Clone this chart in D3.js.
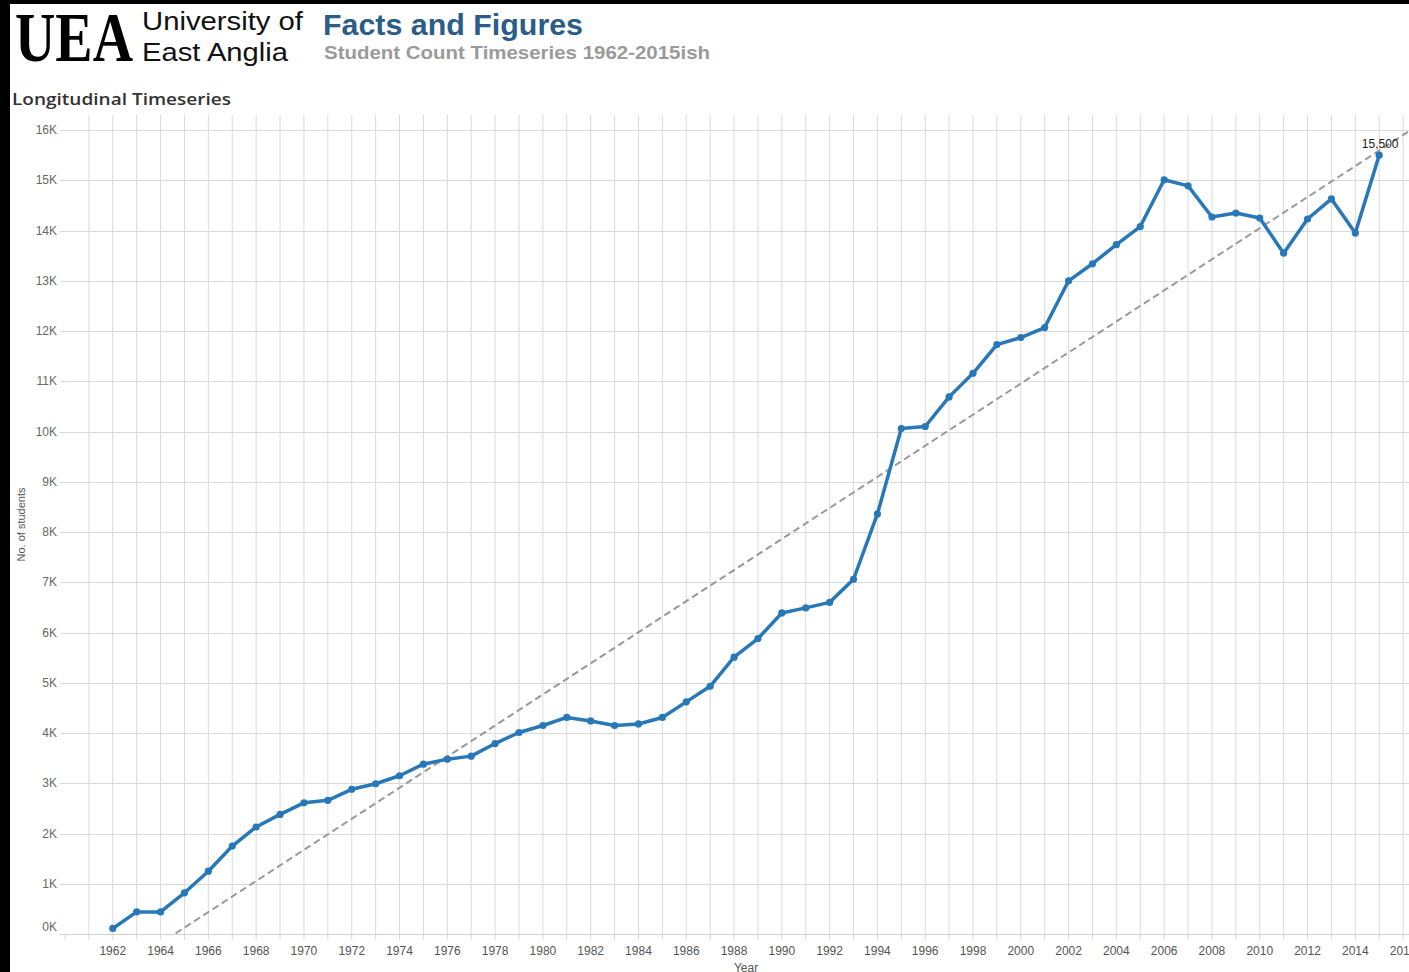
<!DOCTYPE html>
<html>
<head>
<meta charset="utf-8">
<script src="https://cdn.jsdelivr.net/npm/d3@7"></script>
<style>
  body { margin: 0; background: #fff; }
  svg { display: block; }
</style>
</head>
<body>
<div id="chart"></div>
<script>
// student counts, one per year 1962..2015
var years = d3.range(1962, 2016);
var students = [
    110, 440, 440, 820, 1250, 1750, 2130, 2380, 2610, 2660,
    2880, 2990, 3150, 3380, 3480, 3540, 3790, 4010, 4150, 4310,
    4240, 4150, 4180, 4310, 4620, 4930, 5510, 5880, 6390, 6490,
    6600, 7060, 8360, 10060, 10100, 10690, 11160, 11730, 11870, 12070,
    13000, 13340, 13720, 14080, 15010, 14890, 14270, 14350, 14250, 13550,
    14230, 14630, 13950, 15500
];
var yTicks = d3.range(0, 17000, 1000);
var xLabelYears = d3.range(1962, 2017, 2);

var data = years.map(function (y, i) {
    return {year: y, valor: students[i]};
});

var W = 1409, H = 972;
var pane = {left: 65, right: 1427, top: 115, bottom: 934};

var svg = d3.select("#chart").append("svg")
        .attr("width", W)
        .attr("height", H);

// black frame left / top
svg.append("rect").attr("x", 0).attr("y", 0).attr("width", W).attr("height", 4).attr("fill", "#000");
svg.append("rect").attr("x", 0).attr("y", 0).attr("width", 10).attr("height", H).attr("fill", "#000");

// header
svg.append("text")
        .attr("x", 15).attr("y", 61)
        .attr("font-family", "Liberation Serif, serif")
        .attr("font-size", 70)
        .attr("font-weight", "bold")
        .attr("fill", "#000")
        .attr("textLength", 118)
        .attr("lengthAdjust", "spacingAndGlyphs")
        .text("UEA");
svg.append("text")
        .attr("x", 142).attr("y", 30)
        .attr("font-family", "Liberation Sans, Arial, sans-serif")
        .attr("font-size", 26)
        .attr("textLength", 161).attr("lengthAdjust", "spacingAndGlyphs")
        .attr("fill", "#111")
        .text("University of");
svg.append("text")
        .attr("x", 142).attr("y", 61)
        .attr("font-family", "Liberation Sans, Arial, sans-serif")
        .attr("font-size", 26)
        .attr("textLength", 146).attr("lengthAdjust", "spacingAndGlyphs")
        .attr("fill", "#111")
        .text("East Anglia");
svg.append("text")
        .attr("x", 323).attr("y", 35)
        .attr("font-family", "Liberation Sans, Arial, sans-serif")
        .attr("font-size", 30)
        .attr("font-weight", "bold")
        .attr("textLength", 260).attr("lengthAdjust", "spacingAndGlyphs")
        .attr("fill", "#2b5d89")
        .text("Facts and Figures");
svg.append("text")
        .attr("x", 324).attr("y", 59)
        .attr("font-family", "Liberation Sans, Arial, sans-serif")
        .attr("font-size", 19)
        .attr("font-weight", "bold")
        .attr("textLength", 386).attr("lengthAdjust", "spacingAndGlyphs")
        .attr("fill", "#9a9a9a")
        .text("Student Count Timeseries 1962-2015ish");
svg.append("text")
        .attr("x", 12).attr("y", 105)
        .attr("font-family", "Open Sans, DejaVu Sans, sans-serif")
        .attr("font-size", 16)
        .attr("font-weight", 600)
        .attr("textLength", 219).attr("lengthAdjust", "spacingAndGlyphs")
        .attr("fill", "#333")
        .text("Longitudinal Timeseries");

// scales
var x = d3.scaleLinear().domain([1960, 2017]).range([pane.left, pane.right]);
var y = d3.scaleLinear().domain([0, 16300]).range([pane.bottom, pane.top]);

var grid = svg.append("g").attr("class", "grid");

// vertical gridlines, one per year
grid.selectAll(".vline")
        .data(d3.range(1961, 2017))
        .enter().append("line")
        .attr("x1", function (d) { return x(d); })
        .attr("x2", function (d) { return x(d); })
        .attr("y1", pane.top)
        .attr("y2", pane.bottom + 6)
        .attr("stroke", "#dadada")
        .attr("stroke-width", 1);

// year tick at left border
grid.append("line")
        .attr("x1", x(1960)).attr("x2", x(1960))
        .attr("y1", pane.bottom).attr("y2", pane.bottom + 6)
        .attr("stroke", "#dadada");

// horizontal gridlines
grid.selectAll(".hline")
        .data(yTicks)
        .enter().append("line")
        .attr("x1", pane.left - 5)
        .attr("x2", W)
        .attr("y1", function (d) { return Math.round(y(d)) + 0.5; })
        .attr("y2", function (d) { return Math.round(y(d)) + 0.5; })
        .attr("stroke", "#dadada")
        .attr("stroke-width", 1);

// axis line
svg.append("line")
        .attr("x1", pane.left - 5).attr("x2", W)
        .attr("y1", pane.bottom + 0.5).attr("y2", pane.bottom + 0.5)
        .attr("stroke", "#d0d0d0");

// y labels
svg.append("g").selectAll("text")
        .data(yTicks)
        .enter().append("text")
        .attr("x", 57)
        .attr("y", function (d) { return d === 0 ? y(d) - 3 : y(d) + 4; })
        .attr("text-anchor", "end")
        .attr("font-family", "Liberation Sans, Arial, sans-serif")
        .attr("font-size", 12)
        .attr("fill", "#666")
        .text(function (d) { return (d / 1000) + "K"; });

// x labels
svg.append("g").selectAll("text")
        .data(xLabelYears)
        .enter().append("text")
        .attr("x", function (d) { return x(d); })
        .attr("y", 955)
        .attr("text-anchor", "middle")
        .attr("font-family", "Liberation Sans, Arial, sans-serif")
        .attr("font-size", 12)
        .attr("fill", "#555")
        .text(function (d) { return d; });

// axis titles
svg.append("text")
        .attr("x", (pane.left + pane.right) / 2)
        .attr("y", 972)
        .attr("text-anchor", "middle")
        .attr("font-family", "Liberation Sans, Arial, sans-serif")
        .attr("font-size", 12)
        .attr("fill", "#555")
        .text("Year");
svg.append("text")
        .attr("transform", "translate(25," + ((pane.top + pane.bottom) / 2) + ") rotate(-90)")
        .attr("text-anchor", "middle")
        .attr("font-family", "Liberation Sans, Arial, sans-serif")
        .attr("font-size", 11)
        .attr("fill", "#555")
        .text("No. of students");

// clip to pane
svg.append("clipPath").attr("id", "paneClip")
        .append("rect")
        .attr("x", pane.left).attr("y", pane.top)
        .attr("width", pane.right - pane.left)
        .attr("height", pane.bottom - pane.top);

// linear trend (least squares)
var mx = d3.mean(data, function (d) { return d.year; });
var my = d3.mean(data, function (d) { return d.valor; });
var sxy = d3.sum(data, function (d) { return (d.year - mx) * (d.valor - my); });
var sxx = d3.sum(data, function (d) { return (d.year - mx) * (d.year - mx); });
var slope = sxy / sxx;
var icpt = my - slope * mx;

svg.append("line")
        .attr("clip-path", "url(#paneClip)")
        .attr("x1", x(1960)).attr("y1", y(icpt + slope * 1960))
        .attr("x2", x(2017)).attr("y2", y(icpt + slope * 2017))
        .attr("stroke", "#999")
        .attr("stroke-width", 2)
        .attr("stroke-dasharray", "7,4");

// main line
var line = d3.line()
        .x(function (d) { return x(d.year); })
        .y(function (d) { return y(d.valor); });

svg.append("path")
        .datum(data)
        .attr("d", line)
        .attr("fill", "none")
        .attr("stroke", "#2878b8")
        .attr("stroke-width", 3.5)
        .attr("stroke-linejoin", "round");

svg.append("g").selectAll("circle")
        .data(data)
        .enter().append("circle")
        .attr("cx", function (d) { return x(d.year); })
        .attr("cy", function (d) { return y(d.valor); })
        .attr("r", 3.6)
        .attr("fill", "#2878b8");

// last point label
var last = data[data.length - 1];
svg.append("text")
        .attr("x", x(last.year) + 1)
        .attr("y", y(last.valor) - 7)
        .attr("text-anchor", "middle")
        .attr("font-family", "Liberation Sans, Arial, sans-serif")
        .attr("font-size", 12)
        .attr("fill", "#222")
        .text(d3.format(",")(last.valor));
</script>
</body>
</html>
